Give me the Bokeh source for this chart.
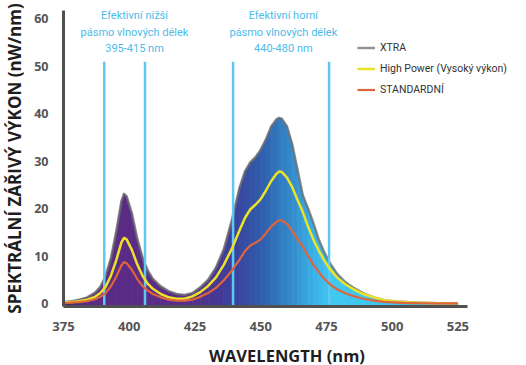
from bokeh.plotting import figure
from bokeh.models import Range1d, FixedTicker, Legend, LegendItem, Label
from bokeh.embed import file_html
from bokeh.resources import INLINE

# ---------------- data ----------------
wavelength = [375, 378, 381, 384, 387, 389, 391, 393, 395, 397, 398, 399, 401, 403, 405,
              407, 409, 412, 415, 418, 421, 424, 427, 430, 433, 436, 439, 442, 444, 446,
              448, 450, 452, 454, 456, 457, 458, 460, 462, 464, 466, 468, 470, 472, 474,
              476, 479, 482, 485, 489, 493, 497, 502, 507, 512, 518, 525]
xtra = [0.3, 0.5, 0.8, 1.3, 2.3, 3.5, 5.8, 9.5, 15.0, 21.5, 23.1, 22.6, 19.0, 13.8, 9.8,
        7.0, 5.2, 3.6, 2.6, 2.0, 1.8, 2.2, 3.4, 5.0, 7.6, 11.5, 17.5, 24.5, 27.8, 29.7,
        30.8, 32.4, 34.6, 37.3, 38.8, 39.1, 38.9, 37.3, 33.5, 28.2, 22.8, 20.0, 17.0, 13.6, 11.0,
        8.8, 6.3, 4.6, 3.4, 2.2, 1.3, 0.7, 0.4, 0.25, 0.15, 0.08, 0.05]
high_power = [0.2, 0.3, 0.5, 0.8, 1.4, 2.2, 3.5, 5.8, 9.0, 12.8, 13.8, 13.5, 11.3, 8.3, 5.9,
              4.2, 3.1, 2.0, 1.3, 1.0, 1.0, 1.5, 2.4, 3.7, 5.5, 8.2, 11.5, 15.5, 18.0, 19.8,
              20.8, 22.0, 23.8, 25.8, 27.3, 27.8, 27.7, 26.5, 24.5, 21.8, 19.3, 16.2, 13.5, 11.2, 9.2,
              7.5, 5.5, 4.1, 3.1, 2.0, 1.3, 0.7, 0.35, 0.2, 0.1, 0.05, 0.03]
standard = [0.1, 0.2, 0.3, 0.5, 0.9, 1.4, 2.2, 3.6, 5.6, 8.0, 8.7, 8.5, 7.1, 5.2, 3.7,
            2.7, 2.0, 1.3, 0.8, 0.6, 0.6, 0.8, 1.4, 2.2, 3.3, 4.9, 6.9, 9.3, 11.0, 12.2,
            12.8, 13.5, 14.8, 16.2, 17.2, 17.5, 17.5, 16.8, 15.3, 13.5, 12.0, 10.0, 8.2, 6.7, 5.3,
            4.2, 3.0, 2.2, 1.6, 1.0, 0.6, 0.35, 0.2, 0.1, 0.05, 0.03, 0.02]
series_names = ["XTRA", "High Power (Vysoký výkon)", "STANDARDNÍ"]

band_edges = [390.5, 406, 439.5, 476]
band_label_x = [402, 458.6]
band_label_lines = [["Efektivní nižší", "pásmo vlnových délek", "395-415 nm"],
                    ["Efektivní horní", "pásmo vlnových délek", "440-480 nm"]]

x_ticks = [375, 400, 425, 450, 475, 500, 525]
y_ticks = [0, 10, 20, 30, 40, 50, 60]

# ---------------- style ----------------
X_START, X_END = 375, 545.0
AXIS_X_END = 528.8
Y_START, Y_END = -0.63, 61.7
BAND_TOP = 50.9
LABEL_Y = [60.6, 57.0, 53.6]

grad_stops = [(375, (60, 38, 100)), (385, (90, 42, 132)), (420, (90, 45, 136)),
              (432, (72, 55, 146)), (440, (58, 66, 156)), (450, (48, 92, 172)),
              (462, (52, 140, 204)), (470, (58, 176, 230)), (477, (64, 200, 242)),
              (525, (60, 192, 236))]


def grad_color(w):
    for (w0, c0), (w1, c1) in zip(grad_stops[:-1], grad_stops[1:]):
        if w0 <= w <= w1:
            t = (w - w0) / (w1 - w0)
            c = [round(a + (b - a) * t) for a, b in zip(c0, c1)]
            return "#%02x%02x%02x" % tuple(c)
    return "#%02x%02x%02x" % grad_stops[-1][1]


p = figure(width=510, height=369, output_backend="svg", toolbar_location=None,
           x_range=Range1d(X_START, X_END), y_range=Range1d(Y_START, Y_END),
           min_border_left=53, min_border_right=0, min_border_top=10, min_border_bottom=60)
p.outline_line_color = None
p.grid.grid_line_color = None
p.background_fill_color = "white"

# gradient fill under XTRA curve
xs, ys, cols = [], [], []
for i in range(len(wavelength) - 1):
    xs.append([wavelength[i], wavelength[i + 1], wavelength[i + 1], wavelength[i]])
    ys.append([Y_START, Y_START, xtra[i + 1], xtra[i]])
    cols.append(grad_color((wavelength[i] + wavelength[i + 1]) / 2))
p.patches(xs=xs, ys=ys, fill_color=cols, line_color=cols, line_width=0.8)

# outline of XTRA
r_xtra = p.line(wavelength, xtra, line_color="#6e6e6e", line_alpha=0.75, line_width=2.5,
                line_join="round")

# band edge lines
p.segment(x0=band_edges, y0=[Y_START] * 4, x1=band_edges, y1=[BAND_TOP] * 4,
          line_color="#5ec8f3", line_width=2.5)

r_hp = p.line(wavelength, high_power, line_color="#ece227", line_width=2.5, line_join="round")
r_std = p.line(wavelength, standard, line_color="#de643c", line_width=2.2, line_join="round")

# band labels
for bx, lines in zip(band_label_x, band_label_lines):
    for ly, txt in zip(LABEL_Y, lines):
        p.add_layout(Label(x=bx, y=ly, text=txt, text_align="center", text_baseline="middle",
                           text_color="#4dbbea", text_font_size="11px",
                           text_font="Roboto"))

# axes
for ax in (p.xaxis[0], p.yaxis[0]):
    ax.axis_line_color = "#505050"
    ax.axis_line_width = 3
    ax.major_tick_line_color = None
    ax.minor_tick_line_color = None
    ax.major_label_text_color = "#555555"
    ax.major_label_text_font = "Open Sans"
    ax.major_label_text_font_style = "bold"
    ax.axis_label_text_font = "Open Sans"
    ax.axis_label_text_font_style = "bold"
    ax.axis_label_text_color = "#1e1e1e"

p.xaxis.bounds = (X_START, AXIS_X_END)
p.xaxis.ticker = FixedTicker(ticks=x_ticks)
p.yaxis.ticker = FixedTicker(ticks=y_ticks)
p.xaxis.major_label_text_font_size = "13px"
p.yaxis.major_label_text_font_size = "12.5px"
p.xaxis.major_label_standoff = 9
p.yaxis.major_label_standoff = 9
p.xaxis.axis_label = "WAVELENGTH (nm)"
p.yaxis.axis_label = "SPEKTRÁLNÍ ZÁŘIVÝ VÝKON (nW/nm)"
p.xaxis.axis_label_text_font_size = "16.5px"
p.yaxis.axis_label_text_font_size = "17px"
p.xaxis.axis_label_standoff = 10
p.yaxis.axis_label_standoff = 5

legend = Legend(items=[LegendItem(label=series_names[0], renderers=[r_xtra]),
                       LegendItem(label=series_names[1], renderers=[r_hp]),
                       LegendItem(label=series_names[2], renderers=[r_std])],
                location=(294, 206), border_line_color=None, background_fill_alpha=0,
                padding=0, margin=0, spacing=0, glyph_width=18, glyph_height=21,
                label_height=21, label_standoff=5, label_text_font_size="10.5px",
                label_text_color="#333333", label_text_font="Roboto")
p.add_layout(legend)

open("out.html", "w").write(file_html(p, INLINE))
